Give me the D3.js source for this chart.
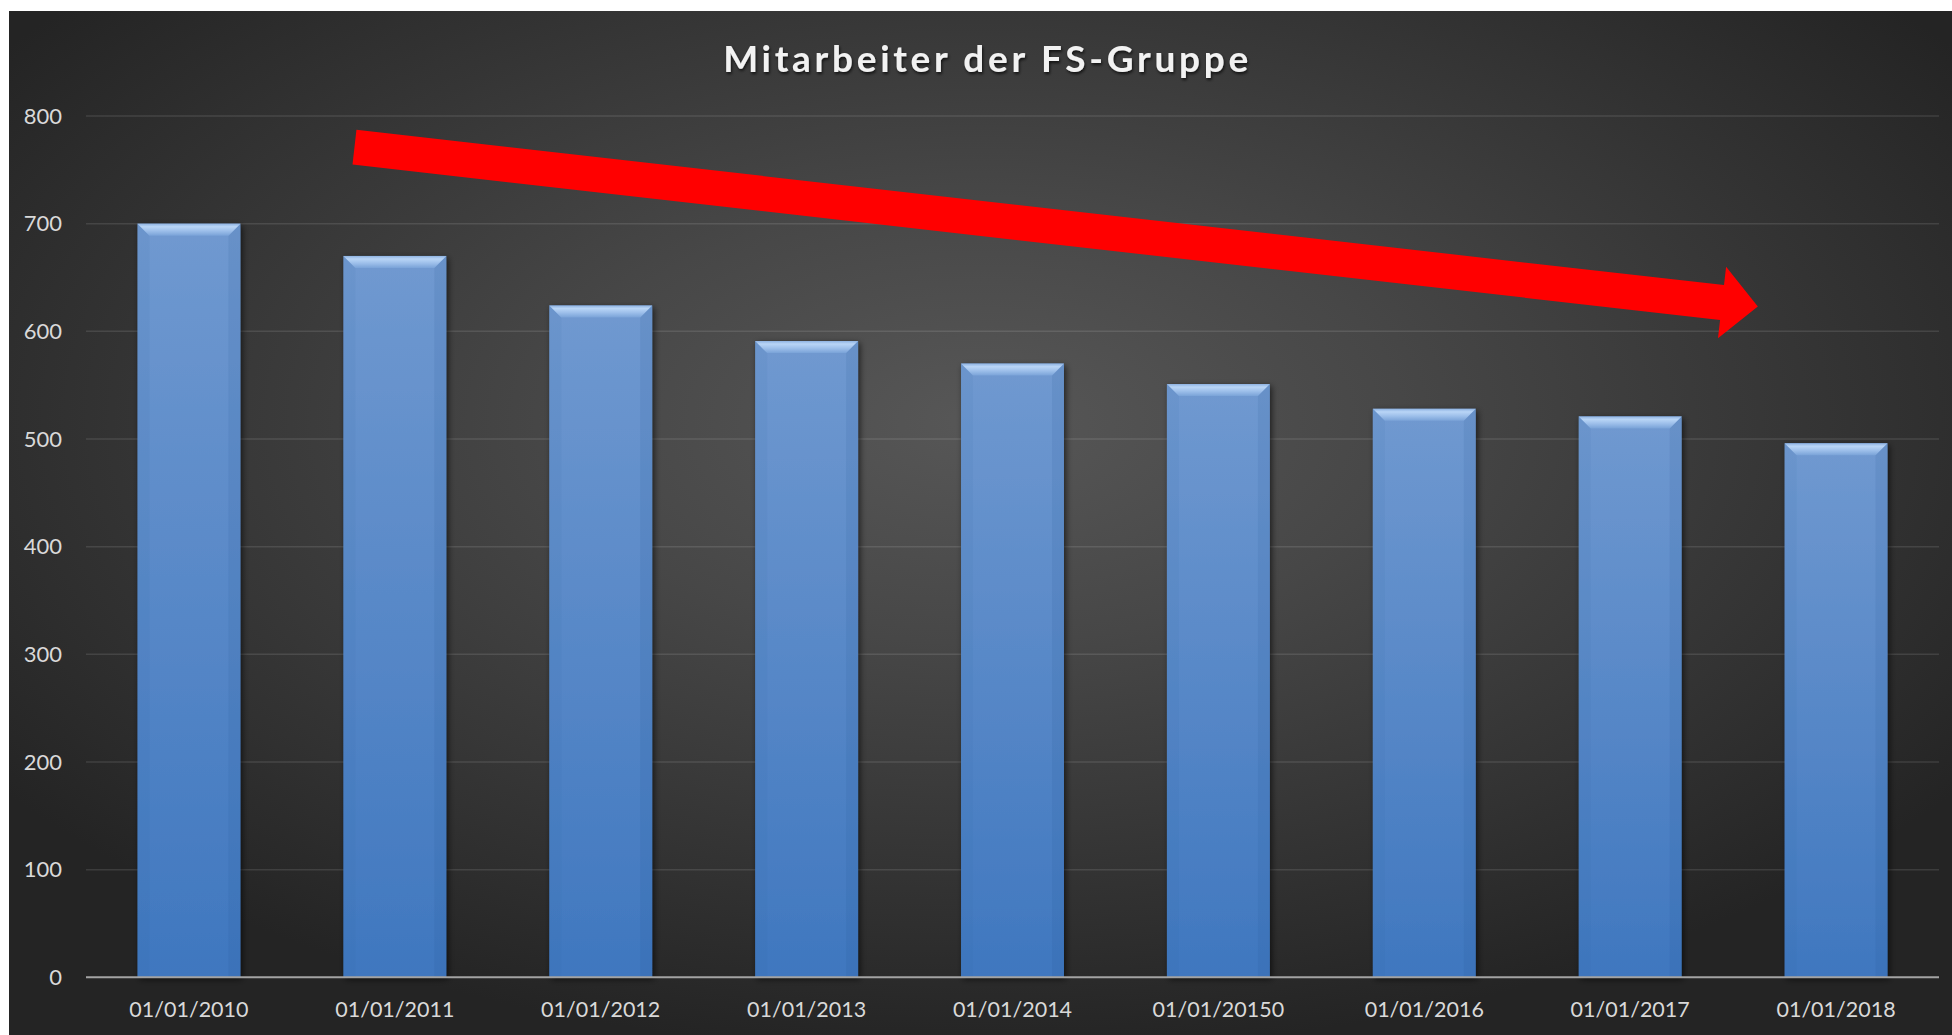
<!DOCTYPE html>
<html>
<head>
<meta charset="utf-8">
<script src="https://cdn.jsdelivr.net/npm/d3@7"></script>
<style>
  body { margin: 0; background: #fff; }
  svg { display: block; }
  text { font-family: Lato, "Open Sans", sans-serif; }
</style>
</head>
<body>
<div id="main"></div>
<script>
// chart data
const title = 'Mitarbeiter der FS-Gruppe';
const categories = ['01/01/2010', '01/01/2011', '01/01/2012', '01/01/2013', '01/01/2014',
    '01/01/20150', '01/01/2016', '01/01/2017', '01/01/2018'];
const employees = [700, 670, 624, 591, 570, 551, 528, 521, 496];
const yTicks = [0, 100, 200, 300, 400, 500, 600, 700, 800];

// trend arrow, in band-index / value units
const arrowFrom = [1.304, 771];
const arrowTo = [8.12, 623];

const w = 1952;
const h = 1035;
const pad = {left: 86, right: 13, top: 116, bottom: 57.7};

const svg = d3.select('#main')
    .append('svg')
    .attr('width', w)
    .attr('height', h);

const defs = svg.append('defs');

const bg = defs.append('radialGradient')
    .attr('id', 'bg')
    .attr('cx', 0.5).attr('cy', 0.4).attr('r', 0.62);
bg.append('stop').attr('offset', 0).attr('stop-color', '#575757');
bg.append('stop').attr('offset', 0.35).attr('stop-color', '#474747');
bg.append('stop').attr('offset', 1).attr('stop-color', '#242424');

const barGrad = defs.append('linearGradient')
    .attr('id', 'barGrad')
    .attr('x1', 0).attr('y1', 0).attr('x2', 0).attr('y2', 1);
barGrad.append('stop').attr('offset', 0).attr('stop-color', '#7099d0');
barGrad.append('stop').attr('offset', 1).attr('stop-color', '#3f77bf');

const bevelGrad = defs.append('linearGradient')
    .attr('id', 'bevelGrad')
    .attr('x1', 0).attr('y1', 0).attr('x2', 0).attr('y2', 1);
bevelGrad.append('stop').attr('offset', 0).attr('stop-color', '#8fb3e2');
bevelGrad.append('stop').attr('offset', 0.25).attr('stop-color', '#b9d5f6');
bevelGrad.append('stop').attr('offset', 0.6).attr('stop-color', '#9dbfea');
bevelGrad.append('stop').attr('offset', 1).attr('stop-color', '#7aa3d8');

const shadow = defs.append('filter')
    .attr('id', 'shadow')
    .attr('x', -0.2).attr('y', -0.2).attr('width', 1.4).attr('height', 1.4);
shadow.append('feDropShadow')
    .attr('dx', 2).attr('dy', 2)
    .attr('stdDeviation', 3)
    .attr('flood-color', '#000')
    .attr('flood-opacity', 0.6);

const titleShadow = defs.append('filter').attr('id', 'titleShadow');
titleShadow.append('feDropShadow')
    .attr('dx', 1).attr('dy', 2)
    .attr('stdDeviation', 1.5)
    .attr('flood-color', '#000')
    .attr('flood-opacity', 0.7);

svg.append('rect')
    .attr('x', 9).attr('y', 11)
    .attr('width', w - 9).attr('height', h - 11)
    .attr('fill', 'url(#bg)');

const x = d3.scaleBand()
    .domain(categories)
    .range([pad.left, w - pad.right])
    .paddingInner(0.5)
    .paddingOuter(0.25);

const y = d3.scaleLinear()
    .domain([0, 800])
    .range([h - pad.bottom, pad.top]);

// gridlines
svg.append('g')
    .selectAll('line')
    .data(yTicks.slice(1))
    .enter()
    .append('line')
    .attr('x1', pad.left)
    .attr('x2', w - pad.right)
    .attr('y1', d => y(d))
    .attr('y2', d => y(d))
    .attr('stroke', 'rgba(255,255,255,0.11)')
    .attr('stroke-width', 1.5);

// y axis labels
const yAxis = svg.append('g')
    .attr('transform', `translate(${pad.left}, 0)`)
    .call(d3.axisLeft(y).tickValues(yTicks).tickSize(0).tickPadding(24));
yAxis.select('.domain').remove();
yAxis.selectAll('text')
    .attr('fill', '#d9d9d9')
    .style('font-size', '22px')
    .style('font-family', 'Lato, sans-serif');

// bars
const b = 12;
const bar = svg.append('g')
    .selectAll('g')
    .data(employees)
    .enter()
    .append('g')
    .attr('transform', (d, i) => `translate(${x(categories[i])}, ${y(d)})`);

bar.append('rect')
    .attr('width', x.bandwidth())
    .attr('height', d => y(0) - y(d))
    .attr('fill', 'url(#barGrad)')
    .attr('filter', 'url(#shadow)');

bar.append('path')
    .attr('d', d => {
        const bh = y(0) - y(d);
        return `M0,0 L${b},${b} L${b},${bh} L0,${bh} Z`;
    })
    .attr('fill', '#2d5d9b')
    .attr('opacity', 0.07);

bar.append('path')
    .attr('d', d => {
        const bw = x.bandwidth();
        const bh = y(0) - y(d);
        return `M${bw},0 L${bw - b},${b} L${bw - b},${bh} L${bw},${bh} Z`;
    })
    .attr('fill', '#1f4a85')
    .attr('opacity', 0.1);

bar.append('path')
    .attr('d', () => {
        const bw = x.bandwidth();
        return `M0,0 L${bw},0 L${bw - b},${b} L${b},${b} Z`;
    })
    .attr('fill', 'url(#bevelGrad)');

// x axis
svg.append('line')
    .attr('x1', pad.left)
    .attr('x2', w - pad.right)
    .attr('y1', y(0))
    .attr('y2', y(0))
    .attr('stroke', '#a3a3a3')
    .attr('stroke-width', 2);

svg.append('g')
    .selectAll('text')
    .data(categories)
    .enter()
    .append('text')
    .attr('x', d => x(d) + x.bandwidth() / 2)
    .attr('y', y(0) + 40)
    .attr('text-anchor', 'middle')
    .attr('fill', '#d9d9d9')
    .style('font-size', '21.5px')
    .text(d => d);

// trend arrow
const xi = d3.scaleLinear()
    .domain([0, categories.length])
    .range(x.range());

const p0 = [xi(arrowFrom[0]), y(arrowFrom[1])];
const p1 = [xi(arrowTo[0]), y(arrowTo[1])];
const len = Math.hypot(p1[0] - p0[0], p1[1] - p0[1]);
const u = [(p1[0] - p0[0]) / len, (p1[1] - p0[1]) / len];
const n = [-u[1], u[0]];
const shaft = 17.5, headW = 36, headL = 36;
const base = [p1[0] - u[0] * headL, p1[1] - u[1] * headL];
const off = (p, k) => [p[0] + n[0] * k, p[1] + n[1] * k];
const arrowPts = [off(p0, -shaft), off(base, -shaft), off(base, -headW), p1,
    off(base, headW), off(base, shaft), off(p0, shaft)];

svg.append('polygon')
    .attr('points', arrowPts.map(p => p.join(',')).join(' '))
    .attr('fill', '#ff0000');

// title
const titleText = svg.append('text')
    .attr('x', 987.5)
    .attr('y', 71.5)
    .attr('text-anchor', 'middle')
    .attr('fill', '#f2f2f2')
    .attr('filter', 'url(#titleShadow)')
    .style('font-size', '37px')
    .style('font-weight', 'bold')
    .text(title);

const natural = titleText.node().getComputedTextLength();
titleText.style('letter-spacing', `${(525 - natural) / (title.length - 1)}px`);
</script>
</body>
</html>
